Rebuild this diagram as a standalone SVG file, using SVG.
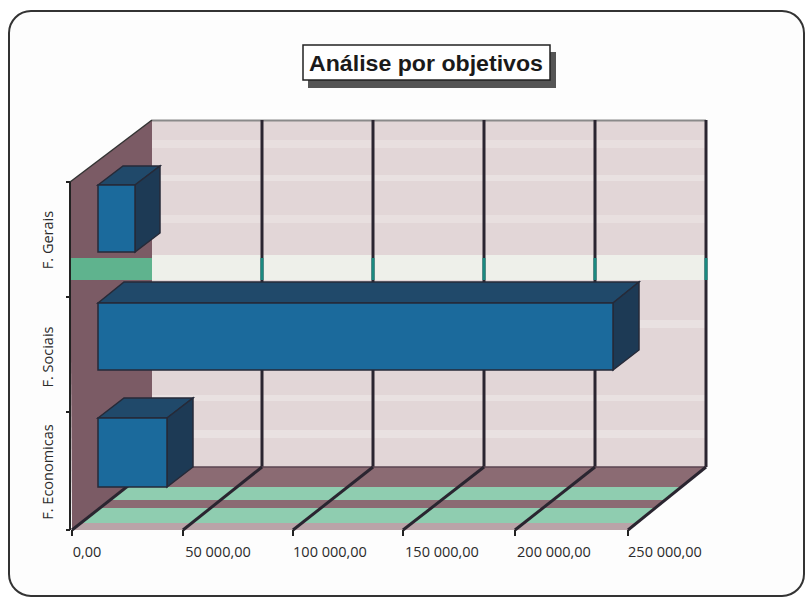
<svg xmlns="http://www.w3.org/2000/svg" width="806" height="600" viewBox="0 0 806 600">
<defs>
<style>
.lbl{font-family:"Open Sans","Liberation Sans",sans-serif;font-size:14.5px;fill:#2a2a2a}
.grid{stroke:#2a2530;stroke-width:3;fill:none}
.front{fill:#1b6a9c;stroke:#262a38;stroke-width:1.5}
.top{fill:#20496a;stroke:#262a38;stroke-width:1.5}
.side{fill:#1d3a55;stroke:#262a38;stroke-width:1.5}
.tick{stroke:#222;stroke-width:2}
</style>
</defs>
<rect x="0" y="0" width="806" height="600" fill="#ffffff"/>
<rect x="9" y="11" width="795" height="585" rx="22" ry="22" fill="#fdfdfd" stroke="#333" stroke-width="2"/>

<g id="title">
<rect x="308" y="52" width="248" height="36" fill="#555"/>
<rect x="303" y="45" width="247" height="35" fill="#ffffff" stroke="#222" stroke-width="1.5"/>
<text x="426" y="71" text-anchor="middle" font-family="'Liberation Sans',sans-serif" font-weight="bold" font-size="22" fill="#1a1a1a" textLength="234" lengthAdjust="spacingAndGlyphs">Análise por objetivos</text>
</g>

<g id="back-wall">
<rect x="152" y="120" width="554" height="347" fill="#e2d6d7"/>
<rect x="152" y="140" width="554" height="8" fill="#e8dfdf"/>
<rect x="152" y="175" width="554" height="6" fill="#e9e1e1"/>
<rect x="152" y="215" width="554" height="8" fill="#e8dfdf"/>
<rect x="152" y="255" width="554" height="25" fill="#eef0ea"/>
<rect x="152" y="320" width="554" height="8" fill="#e9e1e1"/>
<rect x="152" y="395" width="554" height="6" fill="#e9e1e1"/>
<rect x="152" y="430" width="554" height="8" fill="#e9e1e1"/>
<line x1="152" y1="120.5" x2="706" y2="120.5" stroke="#8a8a8a" stroke-width="2"/>
</g>

<g id="left-wall">
<polygon points="70,182 152,120 152,467 72,530" fill="#7b5b65"/>
<polygon points="70,258 152,258 152,280 70,280" fill="#5fb38e"/>
<line x1="70" y1="182" x2="152" y2="120" stroke="#333" stroke-width="1.5"/>
</g>

<g id="floor">
<polygon points="152,467 706,467 628,530 72,530" fill="#8b6b73"/>
<polygon points="126,487 681,487 665,500 110,500" fill="#8fcdb0"/>
<polygon points="100,508 655,508 636,523 81,523" fill="#8fcdb0"/>
<polygon points="81,523 636,523 628,530 72,530" fill="#b9a4a8"/>
</g>

<g id="gridlines">
<line class="grid" x1="262" y1="120" x2="262" y2="467"/>
<line class="grid" x1="373" y1="120" x2="373" y2="467"/>
<line class="grid" x1="484" y1="120" x2="484" y2="467"/>
<line class="grid" x1="595" y1="120" x2="595" y2="467"/>
<line class="grid" x1="706" y1="120" x2="706" y2="467"/>
<line x1="262" y1="258" x2="262" y2="280" stroke="#1a8a80" stroke-width="3"/>
<line x1="373" y1="258" x2="373" y2="280" stroke="#1a8a80" stroke-width="3"/>
<line x1="484" y1="258" x2="484" y2="280" stroke="#1a8a80" stroke-width="3"/>
<line x1="595" y1="258" x2="595" y2="280" stroke="#1a8a80" stroke-width="3"/>
<line x1="706" y1="258" x2="706" y2="280" stroke="#1a8a80" stroke-width="3"/>
<line x1="152" y1="467" x2="706" y2="467" stroke="#5a4550" stroke-width="1.5"/>
<line class="grid" x1="152" y1="467" x2="72" y2="530" stroke="#1f6f6a"/>
<line class="grid" x1="262" y1="467" x2="183" y2="530" stroke="#1f6f6a"/>
<line class="grid" x1="373" y1="467" x2="293" y2="530" stroke="#1f6f6a"/>
<line class="grid" x1="484" y1="467" x2="403" y2="530" stroke="#1f6f6a"/>
<line class="grid" x1="595" y1="467" x2="515" y2="530" stroke="#1f6f6a"/>
<line class="grid" x1="706" y1="467" x2="628" y2="530" stroke="#1f6f6a"/>
</g>

<g id="axes">
<line x1="70" y1="182" x2="70" y2="530" stroke="#222" stroke-width="2"/>
<line class="tick" x1="66" y1="182" x2="70" y2="182"/>
<line class="tick" x1="66" y1="297" x2="70" y2="297"/>
<line class="tick" x1="66" y1="412" x2="70" y2="412"/>
<line class="tick" x1="66" y1="530" x2="70" y2="530"/>
<line class="tick" x1="72" y1="530" x2="72" y2="536"/>
<line class="tick" x1="183" y1="530" x2="183" y2="536"/>
<line class="tick" x1="293" y1="530" x2="293" y2="536"/>
<line class="tick" x1="403" y1="530" x2="403" y2="536"/>
<line class="tick" x1="515" y1="530" x2="515" y2="536"/>
<line class="tick" x1="628" y1="530" x2="628" y2="536"/>
</g>

<g id="bar-gerais">
<polygon class="top" points="98,185 123,166 160,166 135,185"/>
<polygon class="side" points="135,185 160,166 160,233 135,252"/>
<rect class="front" x="98" y="185" width="37" height="67"/>
</g>
<g id="bar-sociais">
<polygon class="top" points="98,303 124,282 639,282 613,303"/>
<polygon class="side" points="613,303 639,282 639,350 613,370"/>
<rect class="front" x="98" y="303" width="515" height="67"/>
</g>
<g id="bar-economicas">
<polygon class="top" points="98,418 124,398 193,398 167,418"/>
<polygon class="side" points="167,418 193,398 193,467 167,487"/>
<rect class="front" x="98" y="418" width="69" height="69"/>
</g>

<g id="x-labels">
<text class="lbl" x="87" y="557" text-anchor="middle">0,00</text>
<text class="lbl" x="218" y="557" text-anchor="middle">50 000,00</text>
<text class="lbl" x="330" y="557" text-anchor="middle">100 000,00</text>
<text class="lbl" x="442" y="557" text-anchor="middle">150 000,00</text>
<text class="lbl" x="554" y="557" text-anchor="middle">200 000,00</text>
<text class="lbl" x="665" y="557" text-anchor="middle">250 000,00</text>
</g>
<g id="y-labels">
<text class="lbl" transform="translate(53,240) rotate(-90)" text-anchor="middle">F. Gerais</text>
<text class="lbl" transform="translate(53,357) rotate(-90)" text-anchor="middle">F. Sociais</text>
<text class="lbl" transform="translate(53,472) rotate(-90)" text-anchor="middle">F. Economicas</text>
</g>
</svg>
